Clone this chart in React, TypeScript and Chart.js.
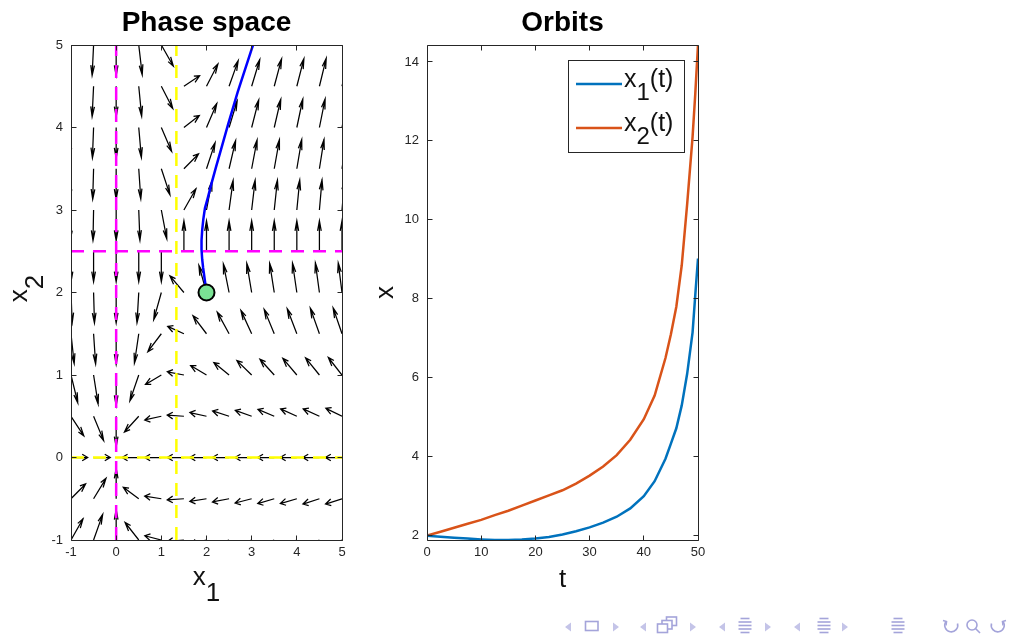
import React, { useEffect, useRef } from 'react';
import { Chart, registerables } from 'chart.js';

Chart.register(...registerables);

const FONT = "'Liberation Sans', Arial, Helvetica, sans-serif";
const AXIS_COLOR = '#262626';

// ---------------- Phase space data ----------------
const phaseGridX = [-1, -0.5, 0, 0.5, 1, 1.5, 2, 2.5, 3, 3.5, 4, 4.5, 5];
const phaseGridY = [-1, -0.5, 0, 0.5, 1, 1.5, 2, 2.5, 3, 3.5, 4, 4.5, 5];
// direction of each field arrow (degrees, in data units), one row per phaseGridY value; null = no arrow
const arrowAngleRows: (number | null)[][] = [
  [44, 57, 90, 145, 172, -177, -172, -169, -167, -166, -165, -164, -163],
  [29, 42, 90, 158, 175, -178, -175, -174, -172, -171, -171, -170, -170],
  [0, 0, null, 180, 180, 180, 180, 180, 180, 180, 180, 180, 180],
  [-40, -53, -90, -149, -173, 178, 173, 170, 169, 167, 166, 166, 165],
  [-66, -74, -90, -122, -162, 174, 162, 156, 152, 149, 147, 146, 145],
  [-79, -83, -90, -105, -144, 166, 144, 135, 130, 127, 125, 123, 122],
  [-86, -87, -90, -96, -117, 147, 117, 110, 107, 106, 105, 104, 103],
  [-90, -90, -90, -90, -90, 90, 90, 90, 90, 90, 90, 90, 90],
  [-93, -92, -90, -86, -71, 44, 71, 76, 78, 79, 80, 81, 81],
  [-95, -93, -90, -83, -59, 29, 59, 67, 71, 72, 73, 74, 75],
  [-96, -94, -90, -81, -52, 23, 52, 61, 65, 67, 69, 70, 71],
  [-97, -95, -90, -80, -47, 20, 47, 57, 61, 64, 65, 66, 67],
  [-98, -95, -90, -78, -44, 18, 44, 54, 58, 61, 63, 64, 65],
];
const arrowLength = 0.37;
const phaseXRange = [-1, 5];
const phaseYRange = [-1, 5];
const phaseXTicks = [-1, 0, 1, 2, 3, 4, 5];
const phaseYTicks = [-1, 0, 1, 2, 3, 4, 5];
const magentaNullclineX = 0;
const magentaNullclineY = 2.5;
const yellowNullclineX = 1.333;
const yellowNullclineY = 0;

// ---------------- Orbits data ----------------
const timeValues = [0, 2.5, 5, 7.5, 10, 12.5, 15, 17.5, 20, 22.5, 25, 27.5, 30, 32.5, 35, 37.5, 40, 42, 44, 45, 46, 47, 48, 49, 49.5, 50];
const x1Values = [2.0, 1.975, 1.95, 1.925, 1.905, 1.89, 1.89, 1.905, 1.93, 1.965, 2.03, 2.11, 2.21, 2.33, 2.48, 2.69, 3.0, 3.38, 3.95, 4.33, 4.72, 5.3, 6.1, 7.15, 8.1, 9.02];
const x2Values = [2.0, 2.1, 2.2, 2.3, 2.4, 2.52, 2.63, 2.76, 2.89, 3.02, 3.15, 3.32, 3.52, 3.75, 4.04, 4.43, 4.95, 5.55, 6.5, 7.1, 7.8, 8.85, 10.4, 12.1, 13.2, 14.43];
const orbitXTicks = [0, 10, 20, 30, 40, 50];
const orbitYTicks = [2, 4, 6, 8, 10, 12, 14];
const seriesLabels = ['x_1(t)', 'x_2(t)'];
const seriesColors = ['rgb(0,114,189)', 'rgb(217,83,25)'];

// ---------------- helpers ----------------
type Part = { t: string; sub?: boolean };
function parseLabel(s: string): Part[] {
  const parts: Part[] = [];
  let buf = '';
  let i = 0;
  while (i < s.length) {
    if (s[i] === '_' && i + 1 < s.length) {
      if (buf) parts.push({ t: buf });
      buf = '';
      parts.push({ t: s[i + 1], sub: true });
      i += 2;
    } else {
      buf += s[i];
      i++;
    }
  }
  if (buf) parts.push({ t: buf });
  return parts;
}

function drawRich(ctx: any, label: string, x: number, y: number, size: number, subSize: number, subShift: number, align: string) {
  const parts = parseLabel(label);
  const widths = parts.map((p) => {
    ctx.font = `${p.sub ? subSize : size}px ${FONT}`;
    return ctx.measureText(p.t).width;
  });
  const total = widths.reduce((a, b) => a + b, 0);
  let cx = align === 'center' ? x - total / 2 : x;
  ctx.textAlign = 'left';
  ctx.textBaseline = 'alphabetic';
  parts.forEach((p, i) => {
    ctx.font = `${p.sub ? subSize : size}px ${FONT}`;
    ctx.fillText(p.t, cx, p.sub ? y + subShift : y);
    cx += widths[i];
  });
}

const boxPlugin = {
  id: 'matlabBox',
  afterDraw(chart: any) {
    const { ctx, chartArea: a } = chart;
    const xs = chart.scales.x;
    const ys = chart.scales.y;
    const L = Math.floor(a.left) + 0.5;
    const R = Math.floor(a.right) + 0.5;
    const T = Math.floor(a.top) + 0.5;
    const B = Math.floor(a.bottom) + 0.5;
    ctx.save();
    ctx.strokeStyle = AXIS_COLOR;
    ctx.lineWidth = 1;
    ctx.beginPath();
    ctx.rect(L, T, R - L, B - T);
    const tl = 5;
    xs.ticks.forEach((t: any) => {
      const p = Math.floor(xs.getPixelForValue(t.value)) + 0.5;
      ctx.moveTo(p, B);
      ctx.lineTo(p, B - tl);
      ctx.moveTo(p, T);
      ctx.lineTo(p, T + tl);
    });
    ys.ticks.forEach((t: any) => {
      const p = Math.floor(ys.getPixelForValue(t.value)) + 0.5;
      ctx.moveTo(L, p);
      ctx.lineTo(L + tl, p);
      ctx.moveTo(R, p);
      ctx.lineTo(R - tl, p);
    });
    ctx.stroke();
    ctx.restore();
  },
};

function axisLabelPlugin(cfg: { xLabel: string; yLabel: string; xOffset: number; yOffset: number; yShift: number }) {
  return {
    id: 'axisLabels',
    afterDraw(chart: any) {
      const { ctx, chartArea: a } = chart;
      ctx.save();
      ctx.fillStyle = '#111';
      drawRich(ctx, cfg.xLabel, (a.left + a.right) / 2, a.bottom + cfg.xOffset, 26, 26, 16, 'center');
      ctx.translate(a.left - cfg.yOffset, (a.top + a.bottom) / 2 + cfg.yShift);
      ctx.rotate(-Math.PI / 2);
      drawRich(ctx, cfg.yLabel, 0, 0, 26, 26, 16, 'center');
      ctx.restore();
    },
  };
}

const quiverPlugin = {
  id: 'quiver',
  beforeDatasetsDraw(chart: any) {
    const { ctx, chartArea: a } = chart;
    const xs = chart.scales.x;
    const ys = chart.scales.y;
    const px = (v: number) => xs.getPixelForValue(v);
    const py = (v: number) => ys.getPixelForValue(v);
    ctx.save();
    ctx.beginPath();
    ctx.rect(a.left, a.top, a.right - a.left, a.bottom - a.top);
    ctx.clip();
    ctx.strokeStyle = '#000';
    ctx.lineWidth = 1.25;
    ctx.lineJoin = 'miter';
    const al = 0.33;
    const be = 0.33;
    arrowAngleRows.forEach((row, r) => {
      row.forEach((ang, c) => {
        if (ang === null) return;
        const x0 = phaseGridX[c];
        const y0 = phaseGridY[r];
        const u = arrowLength * Math.cos((ang * Math.PI) / 180);
        const v = arrowLength * Math.sin((ang * Math.PI) / 180);
        const x1 = x0 + u;
        const y1 = y0 + v;
        const hx1 = x1 - al * (u + be * v);
        const hy1 = y1 - al * (v - be * u);
        const hx2 = x1 - al * (u - be * v);
        const hy2 = y1 - al * (v + be * u);
        ctx.beginPath();
        ctx.moveTo(px(x0), py(y0));
        ctx.lineTo(px(x1), py(y1));
        ctx.moveTo(px(hx1), py(hy1));
        ctx.lineTo(px(x1), py(y1));
        ctx.lineTo(px(hx2), py(hy2));
        ctx.stroke();
      });
    });
    ctx.restore();
  },
};

const orbitLegendPlugin = {
  id: 'orbitLegend',
  afterDraw(chart: any) {
    const { ctx, chartArea: a } = chart;
    const w = 116;
    const h = 92;
    const bx = Math.round(a.right - 14 - w);
    const by = Math.round(a.top + 15);
    ctx.save();
    ctx.fillStyle = '#fff';
    ctx.fillRect(bx, by, w, h);
    ctx.strokeStyle = AXIS_COLOR;
    ctx.lineWidth = 1;
    ctx.strokeRect(bx + 0.5, by + 0.5, w, h);
    chart.data.datasets.forEach((ds: any, i: number) => {
      const ly = by + 24 + i * 44;
      ctx.strokeStyle = ds.borderColor;
      ctx.lineWidth = 2.5;
      ctx.beginPath();
      ctx.moveTo(bx + 8, ly);
      ctx.lineTo(bx + 54, ly);
      ctx.stroke();
      ctx.fillStyle = '#111';
      drawRich(ctx, ds.label, bx + 56, ly + 3, 25, 24, 13, 'left');
    });
    ctx.restore();
  },
};

function tickFont() {
  return { family: FONT, size: 13 };
}

function makeScale(min: number, max: number, ticks: number[], isX: boolean, fitSize: number) {
  return {
    type: 'linear',
    min,
    max,
    grid: { display: false, drawTicks: false },
    border: { display: false },
    ticks: {
      font: tickFont(),
      color: AXIS_COLOR,
      padding: isX ? 5 : 8,
      maxRotation: 0,
      autoSkip: false,
    },
    afterBuildTicks: (s: any) => {
      s.ticks = ticks.map((v) => ({ value: v }));
    },
    afterFit: (s: any) => {
      if (isX) s.height = fitSize;
      else s.width = fitSize;
    },
  };
}

function titleOpts(text: string) {
  return {
    display: true,
    fullSize: false,
    text,
    color: '#000',
    font: { family: FONT, size: 28, weight: 'bold' },
    padding: { top: 6.2, bottom: 5.2 },
  };
}

function PhaseChart() {
  const ref = useRef<HTMLCanvasElement | null>(null);
  useEffect(() => {
    if (!ref.current) return;
    const lineDs = (data: any[], color: string, order: number) => ({
      data,
      showLine: true,
      borderColor: color,
      borderWidth: 2.5,
      borderDash: [13, 9],
      pointRadius: 0,
      order,
    });
    const chart = new Chart(ref.current, {
      type: 'scatter',
      data: {
        datasets: [
          {
            label: 'start',
            data: [{ x: x1Values[0], y: x2Values[0] }],
            pointRadius: 8,
            pointBackgroundColor: '#7ae394',
            pointBorderColor: '#000',
            pointBorderWidth: 2,
            showLine: false,
            order: 0,
          },
          {
            label: 'trajectory',
            data: x1Values.map((v, i) => ({ x: v, y: x2Values[i] })),
            showLine: true,
            borderColor: '#0000ff',
            borderWidth: 2.5,
            pointRadius: 0,
            order: 1,
          },
          lineDs([{ x: magentaNullclineX, y: phaseYRange[0] }, { x: magentaNullclineX, y: phaseYRange[1] }], '#ff00ff', 2),
          lineDs([{ x: phaseXRange[0], y: magentaNullclineY }, { x: phaseXRange[1], y: magentaNullclineY }], '#ff00ff', 3),
          lineDs([{ x: yellowNullclineX, y: phaseYRange[0] }, { x: yellowNullclineX, y: phaseYRange[1] }], '#ffff00', 4),
          lineDs([{ x: phaseXRange[0], y: yellowNullclineY }, { x: phaseXRange[1], y: yellowNullclineY }], '#ffff00', 5),
        ] as any,
      },
      options: {
        animation: false,
        responsive: false,
        devicePixelRatio: 1,
        events: [],
        layout: { padding: { left: 0, right: 28, top: 0, bottom: 0 } },
        plugins: {
          legend: { display: false },
          tooltip: { enabled: false },
          title: titleOpts('Phase space') as any,
        },
        scales: {
          x: makeScale(phaseXRange[0], phaseXRange[1], phaseXTicks, true, 70) as any,
          y: makeScale(phaseYRange[0], phaseYRange[1], phaseYTicks, false, 71) as any,
        },
      },
      plugins: [quiverPlugin, boxPlugin, axisLabelPlugin({ xLabel: 'x_1', yLabel: 'x_2', xOffset: 45, yOffset: 44, yShift: -4 })],
    } as any);
    return () => chart.destroy();
  }, []);
  return <canvas ref={ref} width={370} height={610} style={{ position: 'absolute', left: 0, top: 0 }} />;
}

function OrbitChart() {
  const ref = useRef<HTMLCanvasElement | null>(null);
  useEffect(() => {
    if (!ref.current) return;
    const all = [...x1Values, ...x2Values];
    const chart = new Chart(ref.current, {
      type: 'scatter',
      data: {
        datasets: [x1Values, x2Values].map((vals, k) => ({
          label: seriesLabels[k],
          data: timeValues.map((t, i) => ({ x: t, y: vals[i] })),
          showLine: true,
          borderColor: seriesColors[k],
          borderWidth: 2.5,
          pointRadius: 0,
          tension: 0,
        })),
      },
      options: {
        animation: false,
        responsive: false,
        devicePixelRatio: 1,
        events: [],
        layout: { padding: { left: 0, right: 32, top: 0, bottom: 0 } },
        plugins: {
          legend: { display: false },
          tooltip: { enabled: false },
          title: titleOpts('Orbits') as any,
        },
        scales: {
          x: makeScale(timeValues[0], timeValues[timeValues.length - 1], orbitXTicks, true, 70) as any,
          y: makeScale(Math.min(...all), Math.max(...all), orbitYTicks, false, 57) as any,
        },
      },
      plugins: [boxPlugin, orbitLegendPlugin, axisLabelPlugin({ xLabel: 't', yLabel: 'x', xOffset: 46.5, yOffset: 34, yShift: 0 })],
    } as any);
    return () => chart.destroy();
  }, []);
  return <canvas ref={ref} width={360} height={610} style={{ position: 'absolute', left: 370, top: 0 }} />;
}

const NAV = '#a4a4da';
const NAV_LIGHT = '#c4c4e8';

function SectionIcon({ cx }: { cx: number }) {
  const ys = [618.5, 622, 625.5, 629, 632.5];
  const ws = [9, 13, 13, 13, 9];
  return (
    <g stroke={NAV} strokeWidth={1.6}>
      {ys.map((y, i) => (
        <line key={i} x1={cx - ws[i] / 2} x2={cx + ws[i] / 2} y1={y} y2={y} />
      ))}
    </g>
  );
}

function NavBar() {
  const leftTri = (x: number) => `${x + 3},622.5 ${x + 3},631.5 ${x - 3},627`;
  const rightTri = (x: number) => `${x - 3},622.5 ${x - 3},631.5 ${x + 3},627`;
  return (
    <svg width={1018} height={636} style={{ position: 'absolute', left: 0, top: 0, pointerEvents: 'none' }}>
      <polygon points={leftTri(568)} fill={NAV_LIGHT} />
      <rect x={585.5} y={621.5} width={12.5} height={9} fill="none" stroke={NAV} strokeWidth={1.6} />
      <polygon points={rightTri(616)} fill={NAV_LIGHT} />
      <polygon points={leftTri(643)} fill={NAV_LIGHT} />
      <rect x={666.5} y={617} width={10} height={8.5} fill="#fff" stroke={NAV} strokeWidth={1.6} />
      <rect x={662} y={620.5} width={10} height={8.5} fill="#fff" stroke={NAV} strokeWidth={1.6} />
      <rect x={657.5} y={624} width={10} height={8.5} fill="#fff" stroke={NAV} strokeWidth={1.6} />
      <polygon points={rightTri(693)} fill={NAV_LIGHT} />
      <polygon points={leftTri(722)} fill={NAV_LIGHT} />
      <SectionIcon cx={745} />
      <polygon points={rightTri(768)} fill={NAV_LIGHT} />
      <polygon points={leftTri(797)} fill={NAV_LIGHT} />
      <SectionIcon cx={824} />
      <polygon points={rightTri(845)} fill={NAV_LIGHT} />
      <SectionIcon cx={898} />
      <g fill="none" stroke={NAV} strokeWidth={1.6}>
        <path d="M 946 621.5 A 6.5 6.5 0 1 0 957.5 623.5" />
        <path d="M 943 620.5 L 946.5 621.5 L 946 625.5" />
        <circle cx={972} cy={625} r={5} />
        <line x1={975.5} y1={628.5} x2={980} y2={633} />
        <path d="M 1003 621.5 A 6.5 6.5 0 1 1 991.5 623.5" />
        <path d="M 1006 620.5 L 1002.5 621.5 L 1003 625.5" />
      </g>
    </svg>
  );
}

export default function App() {
  return (
    <div style={{ position: 'absolute', left: 0, top: 0, width: 1018, height: 636, background: '#fff', overflow: 'hidden' }}>
      <PhaseChart />
      <OrbitChart />
      <NavBar />
    </div>
  );
}
